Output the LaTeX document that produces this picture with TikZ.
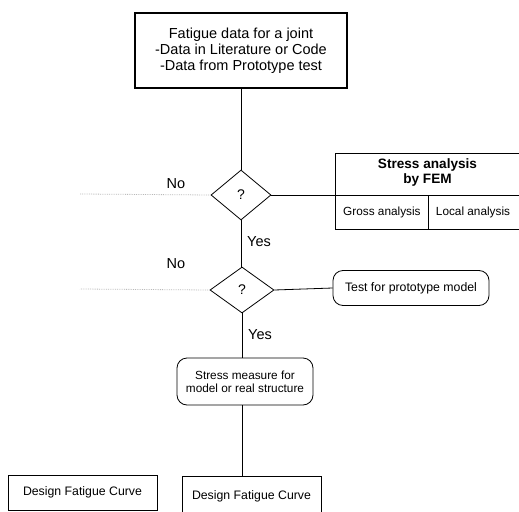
\documentclass[tikz,border=0pt]{standalone}
\usepackage{fontspec}
\setmainfont{Liberation Sans}
\usetikzlibrary{shapes.geometric}
\tikzset{
  box/.style={draw, rectangle, inner sep=0pt, align=center, line width=0.8pt},
  rbox/.style={draw, rectangle, rounded corners=10pt, inner sep=0pt, align=center, line width=0.8pt},
  dia/.style={draw, diamond, inner sep=0pt, line width=0.8pt, font=\fontsize{14}{16}\selectfont},
  lbl/.style={font=\fontsize{14.5}{16}\selectfont, inner sep=0pt},
  conn/.style={line width=0.8pt},
  nobranch/.style={densely dotted, gray!55, line width=0.8pt},
  big/.style={font=\fontsize{14.5}{16}\selectfont},
  mid/.style={font=\fontsize{12.3}{13.5}\selectfont},
  small/.style={font=\fontsize{11.8}{13}\selectfont}
}
\begin{document}
\begin{tikzpicture}[x=1pt,y=-1pt]
\clip (0,0) rectangle (519,511);
\fill[white] (0,0) rectangle (519,511);
% top box
\node[box, big, line width=1.3pt, minimum width=212pt, minimum height=75pt] (top) at (241,50.5)
  {Fatigue data for a joint\\-Data in Literature or Code\\-Data from Prototype test};
% decisions
\node[dia, minimum width=60pt, minimum height=50pt] (d1) at (241,195) {?};
\node[dia, minimum width=64pt, minimum height=46pt] (d2) at (242,290) {?};
% FEM table
\node[box, minimum width=195pt, minimum height=42pt, anchor=north west] (femtop) at (335,153) {};
\node[font=\bfseries\fontsize{13.6}{15}\selectfont, align=center, inner sep=0pt] (femtxt) at (427.5,172.5) {Stress analysis\\by FEM};
\node[box, small, minimum width=93pt, minimum height=34pt, anchor=north west] (gross) at (335,195) {Gross analysis};
\node[box, minimum width=102pt, minimum height=34pt, anchor=north west] (local) at (428,195) {};
\node[small, inner sep=0pt] (localtxt) at (473,212) {Local analysis};
% rounded boxes
\node[rbox, mid, minimum width=156pt, minimum height=35pt] (test) at (411,288) {Test for prototype model};
\node[rbox, small, minimum width=136pt, minimum height=47pt] (stress) at (245,381.5) {Stress measure for\\model or real structure};
% design curves
\node[box, mid, minimum width=149pt, minimum height=35pt] (dfc1) at (82.5,492.5) {Design Fatigue Curve};
\node[box, minimum width=139pt, minimum height=44pt] (dfc2) at (251.5,498) {};
\node[mid, inner sep=0pt] (dfc2txt) at (251.5,496) {Design Fatigue Curve};
% connectors
\draw[conn] (top.south -| d1.north) -- (d1.north);
\draw[conn] (d1.south) -- (d1.south |- d2.north);
\draw[conn] (d1.east) -- (gross.north west);
\draw[conn] (d2.east) -- (test.west);
\draw[conn] (d2.south) -- (d2.south |- stress.north);
\draw[conn] (stress.south -| d2.south) -- (dfc2.north -| d2.south);
% No branches
\coordinate (n1end) at (80,194);
\coordinate (n2end) at (80,289);
\draw[nobranch] (d1.west) -- (n1end);
\draw[nobranch] (d2.west) -- (n2end);
% labels
\node[lbl] (no1) at (176,184) {No};
\node[lbl] (no2) at (176,264) {No};
\node[lbl] (yes1) at (259,242) {Yes};
\node[lbl] (yes2) at (260,335) {Yes};
\end{tikzpicture}
\end{document}
